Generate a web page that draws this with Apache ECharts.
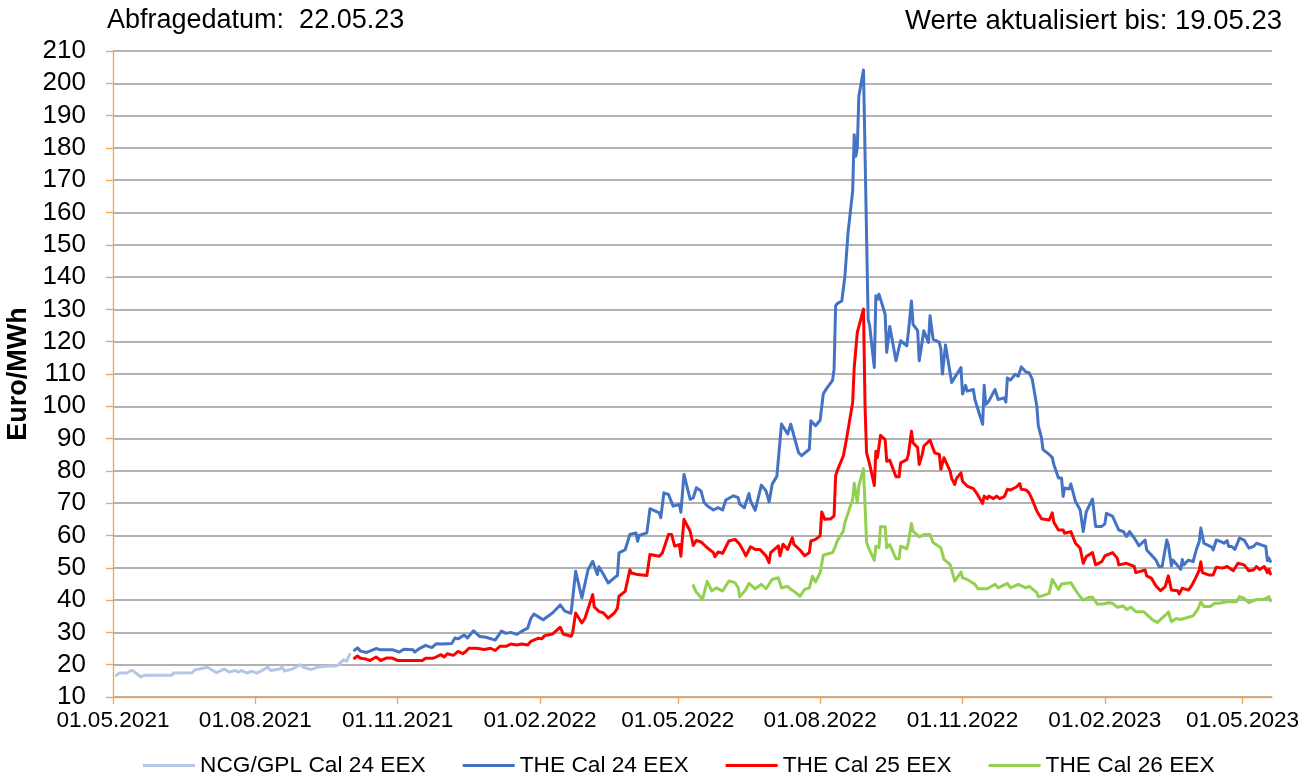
<!DOCTYPE html>
<html>
<head>
<meta charset="utf-8">
<script src="https://cdn.jsdelivr.net/npm/echarts@6/dist/echarts.min.js"></script>
<style>
html,body{margin:0;padding:0;background:#fff;}
#chart{width:1314px;height:777px;}
</style>
</head>
<body>
<div id="chart"></div>
<script>
// ---------- DATA ----------
const seriesNames = ['NCG/GPL Cal 24 EEX', 'THE Cal 24 EEX', 'THE Cal 25 EEX', 'THE Cal 26 EEX'];
const xTickLabels = ['01.05.2021','01.08.2021','01.11.2021','01.02.2022','01.05.2022','01.08.2022','01.11.2022','01.02.2023','01.05.2023'];
const yTickLabels = [10,20,30,40,50,60,70,80,90,100,110,120,130,140,150,160,170,180,190,200,210];
const titleLeft = 'Abfragedatum:  22.05.23';
const titleRight = 'Werte aktualisiert bis: 19.05.23';
const yAxisTitle = 'Euro/MWh';
const xStart = '2021-05-01';
const xEnd = '2023-05-20';

const ncgDates = ['2021-05-03','2021-05-05','2021-05-10','2021-05-12','2021-05-14','2021-05-19','2021-05-21','2021-06-08','2021-06-09','2021-06-21','2021-06-23','2021-06-25','2021-07-01','2021-07-07','2021-07-12','2021-07-15','2021-07-19','2021-07-21','2021-07-23','2021-07-27','2021-07-29','2021-08-02','2021-08-06','2021-08-09','2021-08-11','2021-08-17','2021-08-18','2021-08-20','2021-08-25','2021-08-30','2021-09-01','2021-09-06','2021-09-10','2021-09-15','2021-09-23','2021-09-27','2021-09-29','2021-10-01'];
const ncgValues = [16.7,17.4,17.4,18.1,18.1,16.2,16.7,16.7,17.4,17.5,18.4,18.6,19.2,17.5,18.7,17.7,18.2,17.7,18.2,17.4,18.0,17.4,18.4,19.2,18.2,18.7,19.4,18.0,18.7,20.0,19.2,18.5,19.2,19.5,19.7,21.5,21.1,23.2];

const cal24Dates = ['2021-10-04','2021-10-06','2021-10-08','2021-10-12','2021-10-18','2021-10-21','2021-10-29','2021-11-02','2021-11-05','2021-11-11','2021-11-12','2021-11-15','2021-11-19','2021-11-23','2021-11-26','2021-11-30','2021-12-06','2021-12-08','2021-12-10','2021-12-14','2021-12-16','2021-12-20','2021-12-22','2021-12-24','2021-12-28','2022-01-03','2022-01-07','2022-01-10','2022-01-13','2022-01-17','2022-01-20','2022-01-24','2022-01-26','2022-01-28','2022-02-01','2022-02-03','2022-02-09','2022-02-14','2022-02-17','2022-02-21','2022-02-24','2022-02-28','2022-03-04','2022-03-07','2022-03-10','2022-03-11','2022-03-14','2022-03-17','2022-03-21','2022-03-23','2022-03-24','2022-03-28','2022-03-31','2022-04-04','2022-04-05','2022-04-06','2022-04-11','2022-04-13','2022-04-19','2022-04-20','2022-04-22','2022-04-25','2022-04-28','2022-04-29','2022-05-02','2022-05-03','2022-05-05','2022-05-06','2022-05-09','2022-05-11','2022-05-13','2022-05-16','2022-05-18','2022-05-20','2022-05-24','2022-05-27','2022-05-30','2022-06-01','2022-06-06','2022-06-09','2022-06-10','2022-06-13','2022-06-16','2022-06-17','2022-06-20','2022-06-24','2022-06-27','2022-06-29','2022-07-01','2022-07-04','2022-07-05','2022-07-07','2022-07-11','2022-07-13','2022-07-18','2022-07-20','2022-07-25','2022-07-26','2022-07-29','2022-08-01','2022-08-03','2022-08-05','2022-08-09','2022-08-10','2022-08-11','2022-08-12','2022-08-15','2022-08-17','2022-08-19','2022-08-22','2022-08-23','2022-08-24','2022-08-25','2022-08-26','2022-08-29','2022-09-01','2022-09-02','2022-09-05','2022-09-06','2022-09-07','2022-09-08','2022-09-12','2022-09-13','2022-09-15','2022-09-19','2022-09-20','2022-09-22','2022-09-26','2022-09-27','2022-09-29','2022-09-30','2022-10-03','2022-10-04','2022-10-05','2022-10-07','2022-10-10','2022-10-11','2022-10-13','2022-10-17','2022-10-18','2022-10-19','2022-10-21','2022-10-25','2022-10-31','2022-11-01','2022-11-02','2022-11-03','2022-11-04','2022-11-08','2022-11-09','2022-11-10','2022-11-11','2022-11-14','2022-11-15','2022-11-16','2022-11-18','2022-11-22','2022-11-24','2022-11-28','2022-11-29','2022-11-30','2022-12-02','2022-12-05','2022-12-07','2022-12-09','2022-12-12','2022-12-14','2022-12-16','2022-12-19','2022-12-20','2022-12-22','2022-12-23','2022-12-27','2022-12-29','2022-12-30','2023-01-02','2023-01-04','2023-01-05','2023-01-06','2023-01-09','2023-01-10','2023-01-13','2023-01-16','2023-01-18','2023-01-20','2023-01-24','2023-01-26','2023-01-30','2023-02-01','2023-02-02','2023-02-06','2023-02-07','2023-02-10','2023-02-13','2023-02-15','2023-02-17','2023-02-20','2023-02-23','2023-02-27','2023-02-28','2023-03-03','2023-03-06','2023-03-08','2023-03-10','2023-03-13','2023-03-14','2023-03-16','2023-03-17','2023-03-22','2023-03-23','2023-03-24','2023-03-27','2023-03-30','2023-03-31','2023-04-01','2023-04-03','2023-04-04','2023-04-06','2023-04-11','2023-04-12','2023-04-14','2023-04-17','2023-04-19','2023-04-21','2023-04-22','2023-04-24','2023-04-26','2023-04-29','2023-05-02','2023-05-05','2023-05-08','2023-05-10','2023-05-13','2023-05-16','2023-05-17','2023-05-18','2023-05-19'];
const cal24Values = [24.5,25.2,24.2,23.8,25.0,24.6,24.6,23.9,24.8,24.6,23.9,25.0,26.0,25.3,26.5,26.4,26.6,28.3,28.0,29.2,28.3,30.5,29.6,28.7,28.5,27.6,30.4,29.7,30.0,29.4,30.3,31.3,34.3,35.7,34.5,33.9,36.0,38.5,36.6,35.9,48.9,40.7,49.4,52.0,47.9,50.3,47.9,45.3,46.9,47.6,54.6,55.6,60.3,60.8,58.2,60.0,60.8,68.3,67.0,65.5,73.2,72.7,69.1,68.6,69.6,67.2,78.9,78.4,71.2,71.7,74.8,73.8,70.2,69.2,67.9,68.6,67.9,71.0,72.3,71.7,69.7,68.6,73.0,70.7,67.8,75.6,73.8,70.4,75.9,78.3,83.6,94.5,91.4,94.5,85.7,84.7,86.7,95.5,94.0,95.7,103.8,105.4,108.0,111.5,131.1,131.8,132.6,140.3,153.7,166.6,184.1,177.4,180.0,196.0,204.1,127.0,124.9,112.0,134.2,133.1,134.7,128.5,116.7,124.7,114.1,113.6,120.3,118.7,122.9,132.6,125.4,123.4,114.1,114.1,123.4,119.8,128.0,120.8,119.8,117.7,110.0,119.0,107.4,112.0,103.8,103.7,106.5,104.7,105.2,102.1,102.6,99.0,94.4,106.5,100.6,101.6,105.2,102.1,102.6,101.3,108.8,108.1,109.9,109.3,112.2,110.6,110.4,108.5,100.1,93.9,90.3,86.6,85.1,84.1,82.0,77.8,77.8,72.1,74.7,74.4,76.0,70.5,68.0,61.2,67.4,71.3,62.8,62.8,63.6,66.9,65.9,66.1,61.7,61.2,59.7,61.2,59.2,56.8,58.6,55.5,54.0,52.4,50.4,50.4,58.6,57.1,50.6,52.4,49.5,52.6,50.9,52.4,51.9,53.7,55.5,58.1,62.3,57.6,56.4,55.5,58.6,58.1,57.6,58.4,56.6,56.6,55.7,59.2,58.6,56.1,56.6,57.6,57.1,56.6,52.2,53.0,52.0];

const cal25Dates = ['2021-10-04','2021-10-06','2021-10-08','2021-10-11','2021-10-14','2021-10-18','2021-10-21','2021-10-25','2021-10-28','2021-11-01','2021-11-17','2021-11-19','2021-11-24','2021-11-29','2021-12-01','2021-12-03','2021-12-07','2021-12-10','2021-12-13','2021-12-15','2021-12-17','2021-12-22','2021-12-27','2021-12-31','2022-01-03','2022-01-06','2022-01-10','2022-01-13','2022-01-17','2022-01-20','2022-01-24','2022-01-26','2022-01-31','2022-02-02','2022-02-04','2022-02-09','2022-02-14','2022-02-16','2022-02-21','2022-02-22','2022-02-24','2022-02-28','2022-03-02','2022-03-07','2022-03-08','2022-03-11','2022-03-14','2022-03-17','2022-03-21','2022-03-23','2022-03-24','2022-03-28','2022-03-31','2022-04-01','2022-04-05','2022-04-11','2022-04-13','2022-04-19','2022-04-21','2022-04-25','2022-04-27','2022-04-29','2022-05-02','2022-05-03','2022-05-05','2022-05-09','2022-05-11','2022-05-13','2022-05-16','2022-05-20','2022-05-24','2022-05-25','2022-05-27','2022-05-30','2022-06-03','2022-06-07','2022-06-10','2022-06-13','2022-06-14','2022-06-17','2022-06-20','2022-06-23','2022-06-27','2022-06-29','2022-06-30','2022-07-05','2022-07-06','2022-07-08','2022-07-11','2022-07-14','2022-07-15','2022-07-19','2022-07-22','2022-07-25','2022-07-26','2022-07-29','2022-08-01','2022-08-02','2022-08-04','2022-08-08','2022-08-10','2022-08-11','2022-08-12','2022-08-16','2022-08-18','2022-08-22','2022-08-23','2022-08-24','2022-08-25','2022-08-29','2022-08-30','2022-08-31','2022-09-02','2022-09-05','2022-09-06','2022-09-07','2022-09-09','2022-09-12','2022-09-13','2022-09-15','2022-09-19','2022-09-21','2022-09-22','2022-09-26','2022-09-27','2022-09-29','2022-09-30','2022-10-03','2022-10-04','2022-10-06','2022-10-07','2022-10-11','2022-10-14','2022-10-17','2022-10-18','2022-10-20','2022-10-24','2022-10-25','2022-10-27','2022-10-28','2022-10-31','2022-11-01','2022-11-04','2022-11-08','2022-11-10','2022-11-14','2022-11-15','2022-11-17','2022-11-18','2022-11-21','2022-11-23','2022-11-25','2022-11-28','2022-11-30','2022-12-02','2022-12-06','2022-12-08','2022-12-09','2022-12-12','2022-12-14','2022-12-16','2022-12-19','2022-12-22','2022-12-27','2022-12-29','2022-12-30','2023-01-02','2023-01-05','2023-01-06','2023-01-10','2023-01-13','2023-01-16','2023-01-18','2023-01-20','2023-01-24','2023-01-26','2023-01-30','2023-02-01','2023-02-06','2023-02-09','2023-02-10','2023-02-15','2023-02-20','2023-02-21','2023-02-27','2023-02-28','2023-03-03','2023-03-06','2023-03-09','2023-03-12','2023-03-14','2023-03-16','2023-03-20','2023-03-21','2023-03-23','2023-03-27','2023-03-29','2023-03-31','2023-04-03','2023-04-04','2023-04-05','2023-04-09','2023-04-12','2023-04-14','2023-04-18','2023-04-21','2023-04-25','2023-04-28','2023-05-02','2023-05-05','2023-05-08','2023-05-10','2023-05-12','2023-05-15','2023-05-17','2023-05-18','2023-05-19'];
const cal25Values = [22.0,22.7,22.0,21.8,21.3,22.4,21.3,22.1,22.1,21.3,21.3,22.0,22.0,23.1,22.4,23.4,22.9,24.1,23.4,24.1,25.1,25.1,24.7,25.1,24.4,25.7,25.7,26.4,26.1,26.4,26.1,27.2,28.2,28.0,29.0,29.5,31.6,29.5,28.8,29.8,36.0,32.9,34.4,41.7,37.9,36.5,36.0,34.4,36.0,37.5,41.2,42.7,49.4,48.4,47.9,47.6,54.1,53.6,54.6,60.3,60.3,56.7,57.2,53.6,65.0,61.3,56.9,58.5,58.0,56.2,54.7,53.4,54.9,54.5,58.3,58.8,57.3,54.7,53.7,56.5,55.7,55.7,53.7,51.6,54.7,56.8,53.7,57.3,55.7,59.3,57.3,55.5,53.7,54.7,58.3,58.8,59.9,67.3,65.0,65.2,66.1,78.5,80.0,84.7,89.8,101.2,112.0,111.5,122.9,130.1,100.0,85.6,82.0,75.5,86.1,84.1,91.0,89.7,83.0,83.3,78.2,78.2,82.5,83.5,85.1,92.3,88.7,87.2,82.0,85.1,87.7,89.5,85.6,85.1,80.5,84.1,79.9,77.6,75.8,77.6,79.4,76.8,75.3,74.5,73.2,69.9,72.2,71.4,72.2,71.4,72.2,71.4,72.0,74.3,74.1,75.1,76.1,74.3,74.1,73.2,71.2,67.6,65.2,64.8,67.0,64.1,61.7,61.7,60.7,61.2,57.6,56.1,51.4,53.5,54.7,50.9,51.9,53.7,54.7,53.0,50.9,51.4,50.4,48.5,49.3,47.5,46.8,44.4,42.9,44.2,47.5,43.1,42.9,41.9,43.7,43.1,44.4,46.2,49.3,51.9,48.5,47.8,47.8,50.2,49.9,50.4,49.1,51.4,50.9,49.1,49.3,50.4,49.5,50.4,48.5,49.5,48.1];

const cal26Dates = ['2022-05-11','2022-05-13','2022-05-17','2022-05-20','2022-05-23','2022-05-26','2022-05-30','2022-06-03','2022-06-07','2022-06-09','2022-06-10','2022-06-14','2022-06-16','2022-06-20','2022-06-24','2022-06-27','2022-07-01','2022-07-05','2022-07-07','2022-07-11','2022-07-13','2022-07-15','2022-07-19','2022-07-22','2022-07-25','2022-07-27','2022-07-29','2022-08-01','2022-08-03','2022-08-05','2022-08-09','2022-08-11','2022-08-12','2022-08-16','2022-08-17','2022-08-22','2022-08-23','2022-08-25','2022-08-26','2022-08-29','2022-08-31','2022-09-01','2022-09-05','2022-09-06','2022-09-08','2022-09-09','2022-09-12','2022-09-13','2022-09-15','2022-09-19','2022-09-21','2022-09-22','2022-09-26','2022-09-27','2022-09-29','2022-09-30','2022-10-04','2022-10-07','2022-10-11','2022-10-13','2022-10-18','2022-10-20','2022-10-24','2022-10-27','2022-10-31','2022-11-01','2022-11-04','2022-11-09','2022-11-11','2022-11-17','2022-11-22','2022-11-24','2022-11-30','2022-12-02','2022-12-07','2022-12-12','2022-12-14','2022-12-19','2022-12-20','2022-12-23','2022-12-27','2022-12-29','2022-12-30','2023-01-02','2023-01-04','2023-01-10','2023-01-13','2023-01-16','2023-01-18','2023-01-22','2023-01-24','2023-01-27','2023-01-31','2023-02-03','2023-02-06','2023-02-09','2023-02-13','2023-02-15','2023-02-18','2023-02-21','2023-02-26','2023-03-01','2023-03-04','2023-03-07','2023-03-09','2023-03-13','2023-03-14','2023-03-16','2023-03-19','2023-03-22','2023-03-27','2023-03-30','2023-04-02','2023-04-04','2023-04-06','2023-04-10','2023-04-13','2023-04-16','2023-04-21','2023-04-27','2023-04-29','2023-05-02','2023-05-05','2023-05-10','2023-05-14','2023-05-16','2023-05-18','2023-05-19'];
const cal26Values = [44.5,42.4,40.3,45.8,42.8,43.8,42.8,45.9,45.4,43.8,41.0,43.3,45.2,43.5,44.9,43.5,46.4,46.9,43.8,44.3,43.3,42.8,41.2,43.3,43.8,47.4,45.6,48.5,53.9,54.2,54.7,56.8,58.3,61.4,64.0,71.2,76.2,70.2,75.4,80.7,57.8,56.5,52.3,56.7,56.2,62.7,62.7,56.2,57.2,52.8,52.8,56.7,55.9,57.8,63.7,61.4,59.6,60.3,60.3,57.8,56.2,52.6,51.0,45.9,48.7,46.9,46.4,44.9,43.5,43.5,44.9,43.8,45.2,43.8,44.9,43.8,44.3,42.3,41.0,41.4,42.1,46.4,45.9,43.3,45.0,45.4,43.1,41.1,40.0,40.9,40.9,38.8,38.8,39.2,39.0,37.8,38.2,37.1,37.8,36.4,36.4,35.1,33.8,33.1,34.0,35.7,36.4,33.3,34.3,34.0,34.7,35.1,37.1,39.5,38.0,38.0,39.0,39.0,39.5,39.5,41.1,40.5,39.2,40.2,40.2,40.5,41.1,39.8];

// ---------- HELPERS ----------
function isoToTs(s){ const p = s.split('-'); return Date.UTC(+p[0], +p[1]-1, +p[2]); }
function deToTs(s){ const p = s.split('.'); return Date.UTC(+p[2], +p[1]-1, +p[0]); }
function tsToDe(v){ const d = new Date(v); const dd = String(d.getUTCDate()).padStart(2,'0'); const mm = String(d.getUTCMonth()+1).padStart(2,'0'); return dd + '.' + mm + '.' + d.getUTCFullYear(); }
function pairs(dates, values){ return dates.map((d,i)=>[isoToTs(d), values[i]]); }

const xTicks = xTickLabels.map(deToTs);
const colors = ['#B4C7E7', '#4472C4', '#FF0000', '#92D050'];
const orange = '#F9A245';
const FONT = '"Liberation Sans", Arial, Helvetica, sans-serif';

const chart = echarts.init(document.getElementById('chart'), null, {renderer: 'canvas'});
const allData = [pairs(ncgDates, ncgValues), pairs(cal24Dates, cal24Values), pairs(cal25Dates, cal25Values), pairs(cal26Dates, cal26Values)];

chart.setOption({
  animation: false,
  backgroundColor: '#ffffff',
  textStyle: {fontFamily: FONT},
  title: [
    {text: titleLeft, left: 102, top: 2, textStyle: {fontFamily: FONT, fontSize: 27, fontWeight: 'normal', color: '#000'}},
    {text: titleRight, right: 27, top: 2, textStyle: {fontFamily: FONT, fontSize: 27.5, fontWeight: 'normal', color: '#000'}}
  ],
  grid: {left: 113, right: 42, top: 51, bottom: 80, containLabel: false, outerBoundsMode: 'none'},
  legend: {
    data: seriesNames,
    left: 138, top: 749,
    icon: 'rect', itemWidth: 52, itemHeight: 3, itemGap: 37,
    textStyle: {fontFamily: FONT, fontSize: 22.7, color: '#000'}
  },
  xAxis: {
    type: 'value',
    min: isoToTs(xStart), max: isoToTs(xEnd),
    axisLine: {show: true, onZero: false, lineStyle: {color: orange, width: 1.3}},
    axisTick: {show: true, length: 7, customValues: xTicks, lineStyle: {color: orange, width: 1.3}},
    axisLabel: {customValues: xTicks, formatter: v => tsToDe(v), fontFamily: FONT, fontSize: 22.6, color: '#000', margin: 12},
    splitLine: {show: false}
  },
  yAxis: {
    type: 'value',
    min: yTickLabels[0], max: yTickLabels[yTickLabels.length-1], interval: 10,
    name: yAxisTitle, nameLocation: 'middle', nameRotate: 90, nameGap: 75,
    nameTextStyle: {fontFamily: FONT, fontSize: 27, fontWeight: 'bold', color: '#000'},
    axisLine: {show: true, lineStyle: {color: orange, width: 1.3}},
    axisTick: {show: true, length: 7, lineStyle: {color: orange, width: 1.3}},
    axisLabel: {fontFamily: FONT, fontSize: 26, color: '#000', margin: 27},
    splitLine: {show: true, lineStyle: {color: '#999999', width: 1.5}}
  },
  series: seriesNames.map((n, i) => ({
    name: n, type: 'line', data: allData[i], showSymbol: false, symbol: 'none',
    color: colors[i],
    lineStyle: {color: colors[i], width: 3, join: 'round', cap: 'round'},
    emphasis: {disabled: true}
  }))
});
</script>
</body>
</html>
